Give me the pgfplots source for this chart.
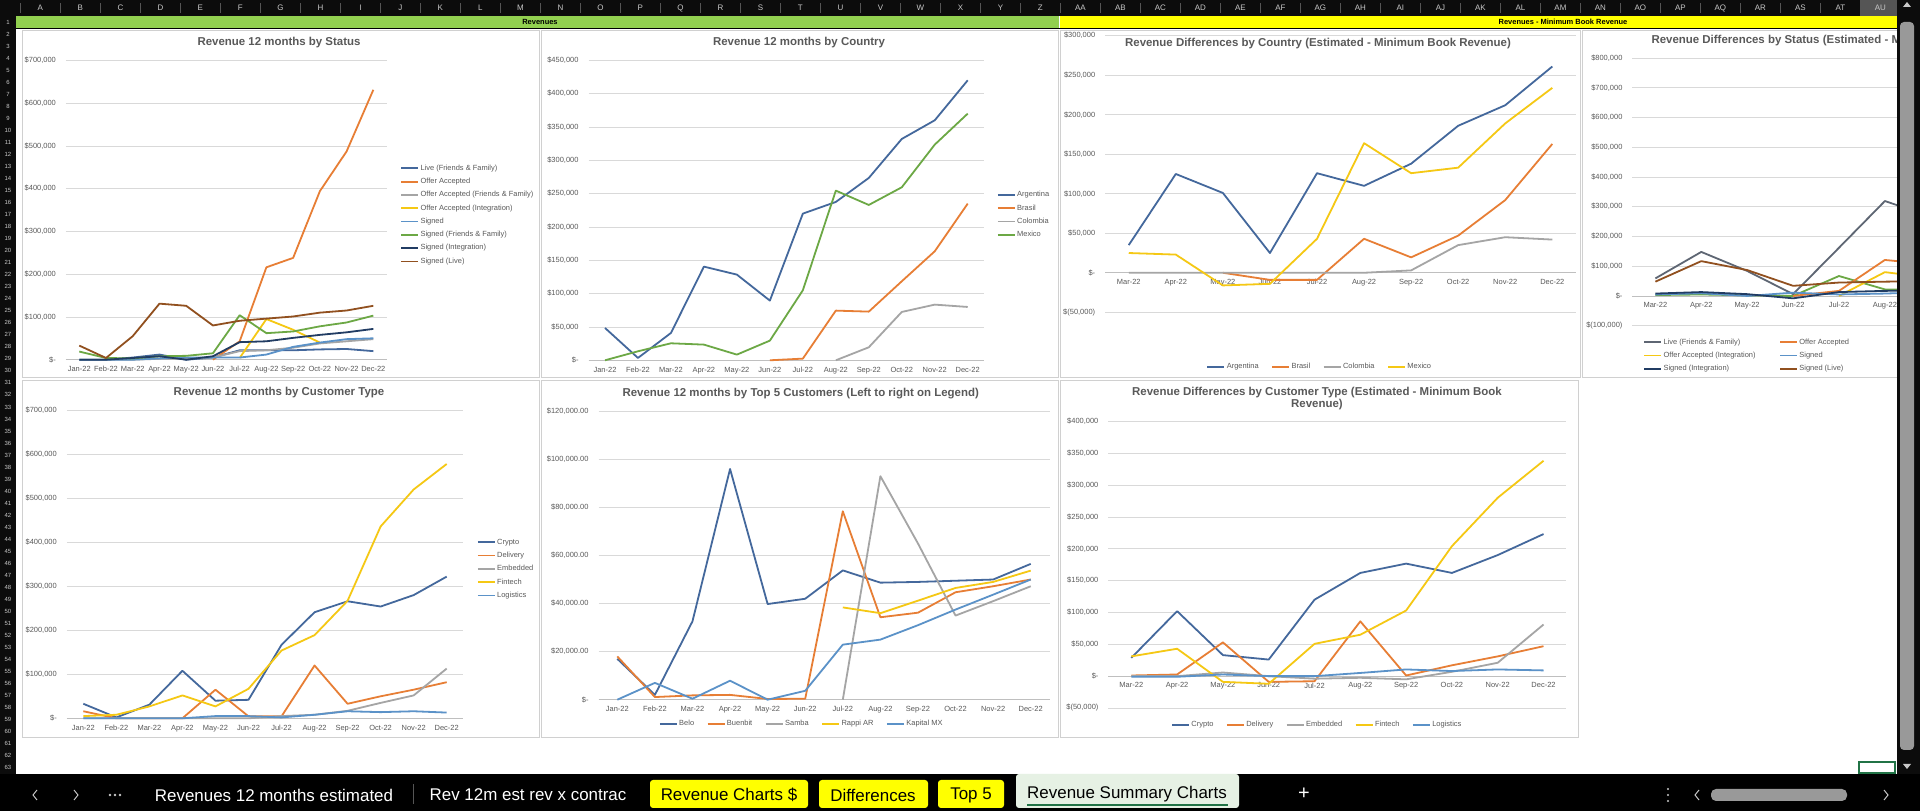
\documentclass[border=0pt]{standalone}
\usepackage{fontspec}
\setmainfont{Liberation Sans}
\usepackage{pgfplots}
\pgfplotsset{compat=1.18}

\definecolor{cblue}{HTML}{44689C}
\definecolor{corange}{HTML}{E77E35}
\definecolor{cgray}{HTML}{A5A5A5}
\definecolor{cgold}{HTML}{F5C814}
\definecolor{clblue}{HTML}{5B92C8}
\definecolor{cgreen}{HTML}{6CA845}
\definecolor{cnavy}{HTML}{213C63}
\definecolor{cbrown}{HTML}{91501F}
\definecolor{cdgray}{HTML}{5E6673}
\definecolor{ttlgray}{HTML}{595959}
\definecolor{tickgray}{HTML}{595959}
\definecolor{gridgray}{HTML}{D9D9D9}
\definecolor{axgray}{HTML}{BFBFBF}
\definecolor{hdrbg}{HTML}{0C0C0C}
\definecolor{hdrtxt}{HTML}{C8C8C8}
\definecolor{hdrsep}{HTML}{555555}
\definecolor{bandgreen}{HTML}{92D050}
\definecolor{bandyellow}{HTML}{FFFF00}
\definecolor{chartborder}{HTML}{D0D0D0}
\definecolor{activebg}{HTML}{E6F1E4}
\definecolor{xlgreen}{HTML}{217346}

\newcommand{\tickf}{\fontsize{7.5}{9}\selectfont}
\newcommand{\ttlf}{\bfseries\fontsize{11.5}{12.7}\selectfont}
\newcommand{\tabf}{\fontsize{17}{19}\selectfont}

\pgfplotsset{
  xl/.style={
    scale only axis, enlargelimits=false, clip=false,
    axis x line=middle, axis y line=left,
    axis line style={-},
    x axis line style={draw=axgray, line width=0.8bp, -},
    y axis line style={draw=none},
    major tick length=0pt, tick style={draw=none},
    ymajorgrids, grid style={draw=gridgray, line width=0.6bp},
    tick label style={font=\tickf, text=tickgray},
    yticklabel style={xshift=-6.5bp},
    xticklabel style={yshift=-3bp},
    no marks,
    every axis plot/.append style={line width=1.8bp, line join=round},
    legend image code/.code={\draw[##1] (0bp,0bp) -- (17bp,0bp);},
    legend cell align=left,
    legend style={draw=none, fill=none, inner sep=0pt, font=\tickf, text=tickgray,
      row sep=6.6bp,
      nodes={inner xsep=1.5bp, inner ysep=0pt, text height=5.2bp, text depth=1.5bp}},
  },
  hleg/.style={legend columns=-1,
    legend style={/tikz/every even column/.append style={column sep=11bp}}},
  mon12/.style={xtick={0,...,11}, xmin=-0.5, xmax=11.5,
    xticklabels={Jan-22,Feb-22,Mar-22,Apr-22,May-22,Jun-22,Jul-22,Aug-22,Sep-22,Oct-22,Nov-22,Dec-22}},
  mon10/.style={xtick={0,...,9}, xmin=-0.5, xmax=9.5,
    xticklabels={Mar-22,Apr-22,May-22,Jun-22,Jul-22,Aug-22,Sep-22,Oct-22,Nov-22,Dec-22}},
}

\begin{document}
\begin{tikzpicture}[x=1bp,y=1bp]
\path[use as bounding box] (0,0) rectangle (1920,811);
\fill[hdrbg] (0,0) rectangle (1920,811);
\fill[white] (16,37) rectangle (1897,795);

% column header
\fill[hdrsep] (1860,795) rectangle (1897,811);
\foreach \l [count=\i from 0] in {A,B,C,D,E,F,G,H,I,J,K,L,M,N,O,P,Q,R,S,T,U,V,W,X,Y,Z,AA,AB,AC,AD,AE,AF,AG,AH,AI,AJ,AK,AL,AM,AN,AO,AP,AQ,AR,AS,AT,AU} {
  \node[font=\fontsize{8}{9}\selectfont, text=hdrtxt] at ({40.4+40*\i},803) {\l};
  \draw[hdrsep, line width=0.6bp] ({20.4+40*\i},798) -- ({20.4+40*\i},808);
}
% row numbers
\foreach \r in {1,...,63} {
  \node[font=\fontsize{6}{7}\selectfont, text=hdrtxt] at (8,{789-12.03*(\r-1)}) {\r};
}
% bands
\fill[bandgreen] (16,783) rectangle (1059,795);
\node[font=\bfseries\fontsize{7.5}{9}\selectfont] at (540,789) {Revenues};
\fill[bandyellow] (1060,783) rectangle (1897,795);
\node[font=\bfseries\fontsize{7.5}{9}\selectfont] at (1563,789) {Revenues - Minimum Book Revenue};
\draw[black, line width=0.8bp] (16,783) -- (1897,783);

% chart frames
\draw[chartborder, fill=white, line width=0.7bp] (22,434) rectangle (539,781);
\draw[chartborder, fill=white, line width=0.7bp] (541,434) rectangle (1058,781);
\draw[chartborder, fill=white, line width=0.7bp] (1060,434) rectangle (1580,781);
\draw[chartborder, fill=white, line width=0.7bp] (1582,434) rectangle (1960,781);
\draw[chartborder, fill=white, line width=0.7bp] (22,74) rectangle (539,431);
\draw[chartborder, fill=white, line width=0.7bp] (541,74) rectangle (1058,431);
\draw[chartborder, fill=white, line width=0.7bp] (1060,74) rectangle (1578,431);

% ---------------- Chart 1 ----------------
\node[font=\ttlf, text=ttlgray] at (279,768) {Revenue 12 months by Status};
\begin{axis}[xl, mon12, at={(65.9bp,451.3bp)}, anchor=south west, width=320.8bp, height=299.4bp,
  ymin=0, ymax=700, ytick={0,100,...,700},
  yticklabels={{\$-\hspace{4bp}},{\$100,000},{\$200,000},{\$300,000},{\$400,000},{\$500,000},{\$600,000},{\$700,000}},
  legend style={at={(1.0415,0.651)}, anchor=north west}]
\addplot[cblue] coordinates {(0,0)(1,0)(2,5)(3,12)(4,0)(5,5)(6,22)(7,22)(8,22)(9,24)(10,25)(11,20)};
\addlegendentry{Live (Friends \& Family)}
\addplot[corange] coordinates {(5,0)(6,43)(7,216)(8,238)(9,394)(10,487)(11,631)};
\addlegendentry{Offer Accepted}
\addplot[cgray] coordinates {(0,0)(1,0)(2,0)(3,2)(4,3)(5,5)(6,20)(7,22)(8,28)(9,38)(10,43)(11,48)};
\addlegendentry{Offer Accepted (Friends \& Family)}
\addplot[cgold] coordinates {(6,4)(7,95)(8,70)(9,40)};
\addlegendentry{Offer Accepted (Integration)}
\addplot[clblue] coordinates {(0,0)(1,0)(2,0)(3,3)(4,5)(5,5)(6,5)(7,12)(8,30)(9,40)(10,48)(11,50)};
\addlegendentry{Signed}
\addplot[cgreen] coordinates {(0,19)(1,4)(2,3)(3,8)(4,9)(5,15)(6,104)(7,62)(8,66)(9,78)(10,87)(11,103)};
\addlegendentry{Signed (Friends \& Family)}
\addplot[cnavy] coordinates {(0,0)(1,0)(2,4)(3,8)(4,0)(5,8)(6,41)(7,43)(8,51)(9,58)(10,64)(11,72)};
\addlegendentry{Signed (Integration)}
\addplot[cbrown] coordinates {(0,33)(1,4)(2,55)(3,131)(4,126)(5,80)(6,91)(7,96)(8,101)(9,110)(10,115)(11,126)};
\addlegendentry{Signed (Live)}
\end{axis}

% ---------------- Chart 2 ----------------
\node[font=\ttlf, text=ttlgray] at (799,768) {Revenue 12 months by Country};
\begin{axis}[xl, mon12, at={(588.5bp,450.7bp)}, anchor=south west, width=395.7bp, height=300bp,
  ymin=0, ymax=450, ytick={0,50,...,450},
  yticklabels={{\$-\hspace{4bp}},{\$50,000},{\$100,000},{\$150,000},{\$200,000},{\$250,000},{\$300,000},{\$350,000},{\$400,000},{\$450,000}},
  legend style={at={(1.0316,0.563)}, anchor=north west}]
\addplot[cblue] coordinates {(0,48.5)(1,3.5)(2,41)(3,140.5)(4,128.5)(5,89.5)(6,220)(7,237.5)(8,273.5)(9,332)(10,360)(11,420)};
\addlegendentry{Argentina}
\addplot[corange] coordinates {(5,0)(6,2.5)(7,74.5)(8,73)(9,118.5)(10,163.5)(11,235)};
\addlegendentry{Brasil}
\addplot[cgray] coordinates {(7,0)(8,19.5)(9,72.5)(10,83.5)(11,80)};
\addlegendentry{Colombia}
\addplot[cgreen] coordinates {(0,0)(1,13.5)(2,25.5)(3,23.5)(4,8.5)(5,29.5)(6,105)(7,254.5)(8,233)(9,259.5)(10,323.5)(11,370)};
\addlegendentry{Mexico}
\end{axis}

% ---------------- Chart 3 ----------------
\begin{axis}[xl, mon10, hleg, at={(1105.2bp,498.7bp)}, anchor=south west, width=470.6bp, height=276.6bp,
  ymin=-50, ymax=300, ytick={-50,0,50,...,300},
  yticklabels={{\$(50,000)\hspace{-2bp}},{\$-\hspace{4bp}},{\$50,000},{\$100,000},{\$150,000},{\$200,000},{\$250,000},{\$300,000}},
  legend style={at={(0.4554,-0.1978)}, anchor=center}]
\addplot[cblue] coordinates {(0,35)(1,125)(2,101)(3,25)(4,126)(5,110)(6,138)(7,186)(8,212)(9,261)};
\addlegendentry{Argentina}
\addplot[corange] coordinates {(2,0)(3,-9)(4,-9)(5,43)(6,19.5)(7,47)(8,92)(9,163)};
\addlegendentry{Brasil}
\addplot[cgray] coordinates {(0,0)(1,0)(2,0)(3,0)(4,0)(5,0)(6,3)(7,35)(8,45)(9,42)};
\addlegendentry{Colombia}
\addplot[cgold] coordinates {(0,25)(1,23)(2,-16)(3,-14)(4,43)(5,164)(6,126)(7,133)(8,189)(9,234)};
\addlegendentry{Mexico}
\end{axis}
\node[font=\ttlf, text=ttlgray] at (1318,767.3) {Revenue Differences by Country (Estimated - Minimum Book Revenue)};

% ---------------- Chart 4 (cut by window edge) ----------------
\begin{scope}
\clip (1582,434) rectangle (1897,781);
\node[font=\ttlf, text=ttlgray, anchor=west] at (1648,770.3) {Revenue Differences by Status (Estimated - Minimum Book Revenue)};
\begin{axis}[xl, mon10, at={(1632.4bp,485.3bp)}, anchor=south west, width=459bp, height=267.7bp,
  ymin=-100, ymax=800, ytick={-100,0,100,...,800},
  yticklabels={{\$(100,000)\hspace{-2bp}},{\$-\hspace{4bp}},{\$100,000},{\$200,000},{\$300,000},{\$400,000},{\$500,000},{\$600,000},{\$700,000},{\$800,000}},
  legend columns=2,
  legend style={at={(0.0231,-0.0484)}, anchor=north west, /tikz/column 2/.style={column sep=22bp}}]
\addplot[cgreen, forget plot] coordinates {(0,3)(1,5)(2,2)(3,0)(4,67)(5,22)(6,19)(7,25)(8,30)(9,35)};
\addplot[cdgray] coordinates {(0,59)(1,148)(2,84)(3,6)(4,162)(5,319)(6,267)(7,250)(8,280)(9,300)};
\addlegendentry{Live (Friends \& Family)}
\addplot[corange] coordinates {(3,0)(4,17)(5,121)(6,106)(7,120)(8,150)(9,180)};
\addlegendentry{Offer Accepted}
\addplot[cgold] coordinates {(4,0)(5,80)(6,61)(7,60)(8,70)(9,80)};
\addlegendentry{Offer Accepted (Integration)}
\addplot[clblue] coordinates {(0,5)(1,9)(2,0)(3,11)(4,5)(5,8)(6,13)(7,15)(8,18)(9,20)};
\addlegendentry{Signed}
\addplot[cnavy] coordinates {(0,8)(1,13)(2,6)(3,-8)(4,13)(5,17)(6,19)(7,20)(8,22)(9,24)};
\addlegendentry{Signed (Integration)}
\addplot[cbrown] coordinates {(0,48)(1,117)(2,87)(3,34)(4,45)(5,48)(6,50)(7,55)(8,60)(9,65)};
\addlegendentry{Signed (Live)}
\end{axis}
\end{scope}

% ---------------- Chart 5 ----------------
\node[font=\ttlf, text=ttlgray] at (279,418) {Revenue 12 months by Customer Type};
\begin{axis}[xl, mon12, at={(66.8bp,92.7bp)}, anchor=south west, width=396.4bp, height=308bp,
  ymin=0, ymax=700, ytick={0,100,...,700},
  yticklabels={{\$-\hspace{4bp}},{\$100,000},{\$200,000},{\$300,000},{\$400,000},{\$500,000},{\$600,000},{\$700,000}},
  legend style={at={(1.034,0.583)}, anchor=north west}]
\addplot[cblue] coordinates {(0,33)(1,2)(2,31)(3,108)(4,40)(5,42)(6,167)(7,241)(8,266)(9,254)(10,280)(11,322)};
\addlegendentry{Crypto}
\addplot[corange] coordinates {(0,16)(1,0)(2,0)(3,0)(4,65)(5,4.5)(6,4.5)(7,120)(8,33)(9,50)(10,65)(11,82)};
\addlegendentry{Delivery}
\addplot[cgray] coordinates {(0,0)(1,0)(2,0)(3,0)(4,0)(5,0)(6,5)(7,8)(8,17)(9,35)(10,52)(11,113)};
\addlegendentry{Embedded}
\addplot[cgold] coordinates {(0,5)(1,8)(2,27)(3,52)(4,27)(5,67)(6,154)(7,189)(8,267)(9,436)(10,520)(11,578)};
\addlegendentry{Fintech}
\addplot[clblue] coordinates {(0,0)(1,0)(2,0)(3,0)(4,5)(5,5)(6,2)(7,8)(8,16)(9,14)(10,16)(11,13)};
\addlegendentry{Logistics}
\end{axis}

% ---------------- Chart 6 ----------------
\node[font=\ttlf, text=ttlgray] at (800.7,417.3) {Revenue 12 months by Top 5 Customers (Left to right on Legend)};
\begin{axis}[xl, mon12, hleg, at={(598.5bp,111.3bp)}, anchor=south west, width=451bp, height=288.4bp,
  ymin=0, ymax=120, ytick={0,20,...,120},
  yticklabels={{\$-\hspace{4bp}},{\$20,000.00},{\$40,000.00},{\$60,000.00},{\$80,000.00},{\$100,000.00},{\$120,000.00}},
  legend style={at={(0.450,-0.0843)}, anchor=center}]
\addplot[cblue] coordinates {(0,17)(1,2)(2,32.6)(3,96)(4,39.8)(5,42)(6,53.8)(7,48.7)(8,49)(9,49.5)(10,50)(11,56.5)};
\addlegendentry{Belo}
\addplot[corange] coordinates {(0,18)(1,1.1)(2,1.8)(3,2)(4,0.3)(5,0.4)(6,78.4)(7,34.3)(8,36.2)(9,44.7)(10,47.2)(11,50)};
\addlegendentry{Buenbit}
\addplot[cgray] coordinates {(6,0)(7,93)(8,65)(9,35)(10,41)(11,47.2)};
\addlegendentry{Samba}
\addplot[cgold] coordinates {(6,38.4)(7,36)(8,41.2)(9,46.5)(10,49)(11,53.7)};
\addlegendentry{Rappi AR}
\addplot[clblue] coordinates {(0,0)(1,7)(2,0.4)(3,7.9)(4,0)(5,3.7)(6,22.9)(7,25)(8,31)(9,37.5)(10,43.7)(11,50)};
\addlegendentry{Kapital MX}
\end{axis}

% ---------------- Chart 7 ----------------
\node[font=\ttlf, text=ttlgray, align=center] at (1317,412.6) {Revenue Differences by Customer Type (Estimated - Minimum Book\\Revenue)};
\begin{axis}[xl, mon10, hleg, at={(1108.4bp,103bp)}, anchor=south west, width=458bp, height=286.7bp,
  ymin=-50, ymax=400, ytick={-50,0,50,...,400},
  yticklabels={{\$(50,000)\hspace{-2bp}},{\$-\hspace{4bp}},{\$50,000},{\$100,000},{\$150,000},{\$200,000},{\$250,000},{\$300,000},{\$350,000},{\$400,000}},
  legend style={at={(0.4555,-0.0582)}, anchor=center}]
\addplot[cblue] coordinates {(0,28.7)(1,102)(2,33)(3,26)(4,120)(5,162)(6,176.6)(7,162)(8,190)(9,223)};
\addlegendentry{Crypto}
\addplot[corange] coordinates {(0,1)(1,2.6)(2,53)(3,-9)(4,-8)(5,86)(6,1)(7,17)(8,31)(9,47)};
\addlegendentry{Delivery}
\addplot[cgray] coordinates {(0,0)(1,0)(2,5.7)(3,0)(4,-4)(5,-2.6)(6,-5)(7,6.8)(8,21)(9,81)};
\addlegendentry{Embedded}
\addplot[cgold] coordinates {(0,31)(1,43)(2,-9)(3,-12)(4,50.7)(5,65)(6,103)(7,204)(8,280)(9,338)};
\addlegendentry{Fintech}
\addplot[clblue] coordinates {(0,-1)(1,-1)(2,2.6)(3,0)(4,0)(5,5)(6,10.5)(7,8)(8,10.5)(9,9)};
\addlegendentry{Logistics}
\end{axis}

% selected cell
\draw[xlgreen, line width=1.4bp] (1859,38) rectangle (1895,49);

% right scrollbar
\fill[hdrbg] (1897,37) rectangle (1920,811);
\fill[hdrsep!60!white, rounded corners=4bp] (1900,61) rectangle (1914,789);
\fill[hdrtxt] (1903,804) -- (1911,804) -- (1907,809) -- cycle;
\fill[hdrtxt] (1903,47) -- (1911,47) -- (1907,42) -- cycle;

% tab bar
\fill[black] (0,0) rectangle (1920,37);
\draw[hdrtxt, line width=1bp] (37,11) -- (33,16) -- (37,21);
\draw[hdrtxt, line width=1bp] (74,11) -- (78,16) -- (74,21);
\foreach \xx in {110,115,120} \fill[hdrtxt] (\xx,16) circle (1.3bp);
\node[text=white, font=\tabf] at (274,16) {Revenues 12 months estimated};
\draw[hdrsep, line width=0.8bp] (413,7) -- (413,27);
\node[text=white, font=\tabf] at (528,16) {Rev 12m est rev x contrac};
\fill[bandyellow, rounded corners=3bp] (650,3) rectangle (808,31);
\node[text=black, font=\tabf] at (729,16) {Revenue Charts \$};
\fill[bandyellow, rounded corners=3bp] (819,3) rectangle (928,31);
\node[text=black, font=\tabf] at (873,16) {Differences};
\fill[bandyellow, rounded corners=3bp] (938,3) rectangle (1004,31);
\node[text=black, font=\tabf] at (971,16) {Top 5};
\fill[activebg, rounded corners=3bp] (1016,3) rectangle (1239,37);
\node[text=black, font=\tabf] at (1127,17) {Revenue Summary Charts};
\draw[xlgreen, line width=2bp] (1027,6) -- (1228,6);
\node[text=white, font=\fontsize{20}{22}\selectfont] at (1304,17) {+};
\foreach \yy in {10,16,22} \fill[hdrtxt] (1668,\yy) circle (1.2bp);
\draw[hdrtxt, line width=1bp] (1699,11) -- (1695,16) -- (1699,21);
\fill[hdrsep!60!white, rounded corners=5bp] (1711,10) rectangle (1847,22);
\draw[hdrtxt, line width=1bp] (1884,11) -- (1888,16) -- (1884,21);
\end{tikzpicture}
\end{document}
